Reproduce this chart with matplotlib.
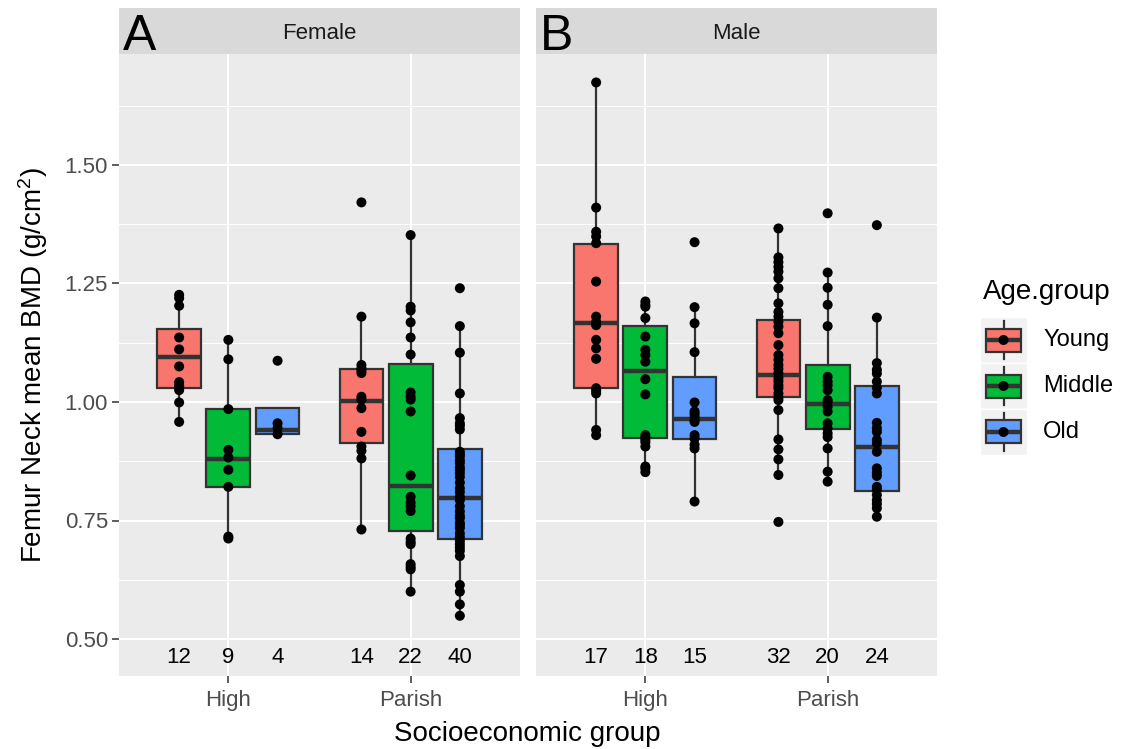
import matplotlib

matplotlib.use("Agg")
import matplotlib.pyplot as plt
import numpy as np
from matplotlib.patches import Rectangle

plt.rcParams["font.family"] = ["Liberation Sans", "DejaVu Sans"]
plt.rcParams["mathtext.fontset"] = "custom"
plt.rcParams["mathtext.rm"] = "Liberation Sans"
plt.rcParams["mathtext.it"] = "Liberation Sans:italic"

W, H = 1135, 749
PANEL_BG, STRIP_BG, KEY_BG = "#EBEBEB", "#D9D9D9", "#F2F2F2"
EDGE, TICK_TXT = "#333333", "#4D4D4D"

SEXES = ["Female", "Male"]
TAGS = ["A", "B"]
SES = ["High", "Parish"]
AGES = ["Young", "Middle", "Old"]
AGE_COLORS = ["#F8766D", "#00BA38", "#619CFF"]
Y_TICKS = [0.50, 0.75, 1.00, 1.25, 1.50]

# counts printed under each box, order: High Y/M/O, Parish Y/M/O
N_FEMALE = [12, 9, 4, 14, 22, 40]
N_MALE = [17, 18, 15, 32, 20, 24]

# individual BMD values
f_high_young = [1.226, 1.219, 1.203, 1.136, 1.111, 1.075, 1.042, 1.035, 1.032, 1.025, 0.999, 0.958]
f_high_middle = [1.131, 1.090, 0.985, 0.899, 0.883, 0.857, 0.821, 0.716, 0.712]
f_high_old = [1.087, 0.955, 0.945, 0.932]
f_parish_young = [1.421, 1.180, 1.078, 1.071, 1.066, 1.061, 1.011, 1.005, 0.987, 0.937,
                  0.906, 0.897, 0.881, 0.731]
f_parish_middle = [1.352, 1.201, 1.193, 1.168, 1.136, 1.100, 1.020, 1.011, 1.005, 0.980, 0.845,
                   0.800, 0.788, 0.780, 0.770, 0.712, 0.705, 0.700, 0.658, 0.652, 0.647, 0.600]
f_parish_old = [1.240, 1.160, 1.104, 1.018, 0.966, 0.955, 0.950, 0.942, 0.895, 0.890,
                0.885, 0.877, 0.871, 0.862, 0.857, 0.850, 0.842, 0.830, 0.818, 0.810,
                0.800, 0.793, 0.780, 0.769, 0.760, 0.755, 0.745, 0.740, 0.734, 0.723,
                0.715, 0.707, 0.700, 0.693, 0.686, 0.675, 0.614, 0.600, 0.573, 0.549]
m_high_young = [1.674, 1.410, 1.359, 1.349, 1.335, 1.254, 1.180, 1.169, 1.162, 1.131, 1.113,
                1.091, 1.029, 1.024, 1.018, 0.941, 0.930]
m_high_middle = [1.212, 1.205, 1.201, 1.177, 1.138, 1.110, 1.099, 1.085, 1.048, 1.016, 0.930,
                 0.925, 0.920, 0.915, 0.906, 0.864, 0.860, 0.852]
m_high_old = [1.337, 1.200, 1.166, 1.105, 0.999, 0.980, 0.975, 0.969, 0.962, 0.958, 0.930,
              0.923, 0.910, 0.902, 0.790]
m_parish_young = [1.366, 1.305, 1.295, 1.285, 1.275, 1.261, 1.240, 1.208, 1.190, 1.180,
                  1.169, 1.159, 1.145, 1.120, 1.099, 1.089, 1.078, 1.070, 1.061, 1.050,
                  1.043, 1.035, 1.029, 1.018, 1.010, 1.004, 0.983, 0.921, 0.900, 0.879,
                  0.846, 0.747]
m_parish_middle = [1.398, 1.273, 1.241, 1.205, 1.160, 1.053, 1.043, 1.035, 1.025, 1.004,
                   1.000, 0.990, 0.980, 0.955, 0.944, 0.934, 0.926, 0.902, 0.853, 0.832]
m_parish_old = [1.373, 1.178, 1.082, 1.068, 1.060, 1.043, 1.030, 1.018, 0.956, 0.945, 0.937,
                0.920, 0.913, 0.895, 0.860, 0.851, 0.844, 0.821, 0.815, 0.804, 0.793, 0.785,
                0.776, 0.758]

# box summaries (whisker low, q1, median, q3, whisker high) as drawn in the picture
BOX_FEMALE = [
    [0.958, 1.029, 1.094, 1.154, 1.226],
    [0.712, 0.821, 0.879, 0.985, 1.131],
    [0.932, 0.932, 0.940, 0.987, 0.987],
    [0.731, 0.913, 1.002, 1.069, 1.180],
    [0.600, 0.728, 0.823, 1.080, 1.352],
    [0.549, 0.712, 0.797, 0.900, 1.160],
]
BOX_MALE = [
    [0.930, 1.029, 1.166, 1.334, 1.674],
    [0.852, 0.923, 1.066, 1.161, 1.212],
    [0.790, 0.921, 0.964, 1.053, 1.200],
    [0.846, 1.011, 1.057, 1.172, 1.366],
    [0.832, 0.942, 0.996, 1.077, 1.273],
    [0.758, 0.813, 0.904, 1.034, 1.178],
]

POINTS = {
    "Female": [f_high_young, f_high_middle, f_high_old, f_parish_young, f_parish_middle, f_parish_old],
    "Male": [m_high_young, m_high_middle, m_high_old, m_parish_young, m_parish_middle, m_parish_old],
}
BOXES = {"Female": BOX_FEMALE, "Male": BOX_MALE}
COUNTS = {"Female": N_FEMALE, "Male": N_MALE}

DODGE, BOX_W = 0.27, 0.24
COUNT_Y = 0.46


def fx(px):
    return px / W


def fy(py):
    return 1 - py / H


fig = plt.figure(figsize=(W / 100, H / 100), dpi=100)
fig.patch.set_facecolor("white")

panel_left = [119, 536]
for k, sex in enumerate(SEXES):
    left = panel_left[k]
    ax = fig.add_axes([fx(left), fy(676), 401 / W, 622 / H])
    ax.set_facecolor(PANEL_BG)
    for s in ax.spines.values():
        s.set_visible(False)

    positions, colors = [], []
    for i in range(len(SES)):
        for j in range(len(AGES)):
            positions.append(i + 1 + (j - 1) * DODGE)
            colors.append(AGE_COLORS[j])

    stats = [dict(whislo=b[0], q1=b[1], med=b[2], q3=b[3], whishi=b[4])
             for b in BOXES[sex]]
    bp = ax.bxp(stats, positions=positions, widths=BOX_W, patch_artist=True,
                showfliers=False, showcaps=False, manage_ticks=False,
                boxprops=dict(edgecolor=EDGE, linewidth=1.6),
                whiskerprops=dict(color=EDGE, linewidth=1.6),
                medianprops=dict(color=EDGE, linewidth=3.2, solid_capstyle="butt"))
    for patch, c in zip(bp["boxes"], colors):
        patch.set_facecolor(c)
        patch.set_zorder(2)

    for pos, vals in zip(positions, POINTS[sex]):
        ax.scatter(np.full(len(vals), pos), vals, s=52, color="black", zorder=4,
                   edgecolors="none")

    for pos, n in zip(positions, COUNTS[sex]):
        ax.text(pos, COUNT_Y, str(n), ha="center", va="center", fontsize=16, color="black")

    ax.set_xlim(0.4, 2.6)
    ax.set_ylim(0.422, 1.734)
    ax.set_yticks(Y_TICKS)
    ax.set_yticks([0.625, 0.875, 1.125, 1.375, 1.625], minor=True)
    ax.set_xticks([1, 2])
    ax.set_xticklabels(SES)
    ax.grid(which="major", color="white", lw=1.5)
    ax.grid(which="minor", axis="y", color="white", lw=0.75)
    ax.set_axisbelow(True)
    ax.tick_params(axis="both", which="major", length=5, width=1.1, color=EDGE,
                   labelsize=16, labelcolor=TICK_TXT, pad=3)
    ax.tick_params(axis="x", pad=5)
    ax.tick_params(axis="y", which="minor", length=0)
    if k == 0:
        ax.set_yticklabels([f"{v:.2f}" for v in Y_TICKS])
    else:
        ax.tick_params(axis="y", which="both", length=0, labelleft=False)

    # facet strip
    sax = fig.add_axes([fx(left), fy(54), 401 / W, 46 / H])
    sax.set_facecolor(STRIP_BG)
    sax.set_xticks([]); sax.set_yticks([])
    for s in sax.spines.values():
        s.set_visible(False)
    sax.text(0.5, 0.45, sex, ha="center", va="center", fontsize=16, color="#1A1A1A",
             transform=sax.transAxes)
    fig.text(fx(left + 4), fy(50), TAGS[k], fontsize=36, color="black", va="baseline",
             ha="left")

fig.text(fx(33), fy(365), r"Femur Neck mean BMD (g/cm$^2$)", rotation=90, fontsize=20,
         ha="center", va="center")
fig.text(fx(527.5), fy(734), "Socioeconomic group", fontsize=20, ha="center", va="center")

# legend
fig.text(fx(983), fy(292), "Age.group", fontsize=20, ha="left", va="center")
lax = fig.add_axes([fx(980), fy(455), 47 / W, 138 / H])
lax.set_xlim(0, 47)
lax.set_ylim(138, 0)
lax.axis("off")
for j, (age, c) in enumerate(zip(AGES, AGE_COLORS)):
    yc = 23 + 46 * j
    lax.add_patch(Rectangle((0, yc - 23), 47, 46, facecolor=KEY_BG, edgecolor="white", lw=1))
    lax.plot([23.5, 23.5], [yc - 19, yc + 19], color=EDGE, lw=1.6)
    lax.add_patch(Rectangle((6, yc - 11.5), 35, 23, facecolor=c, edgecolor=EDGE, lw=1.6,
                            zorder=3))
    lax.plot([6, 41], [yc, yc], color=EDGE, lw=3.2, zorder=4, solid_capstyle="butt")
    lax.scatter([23.5], [yc], s=52, color="black", zorder=5, edgecolors="none")
    fig.text(fx(1043), fy(317 + 23 + 46 * j), age, fontsize=17, ha="left", va="center")

fig.savefig("out.png", dpi=100)
